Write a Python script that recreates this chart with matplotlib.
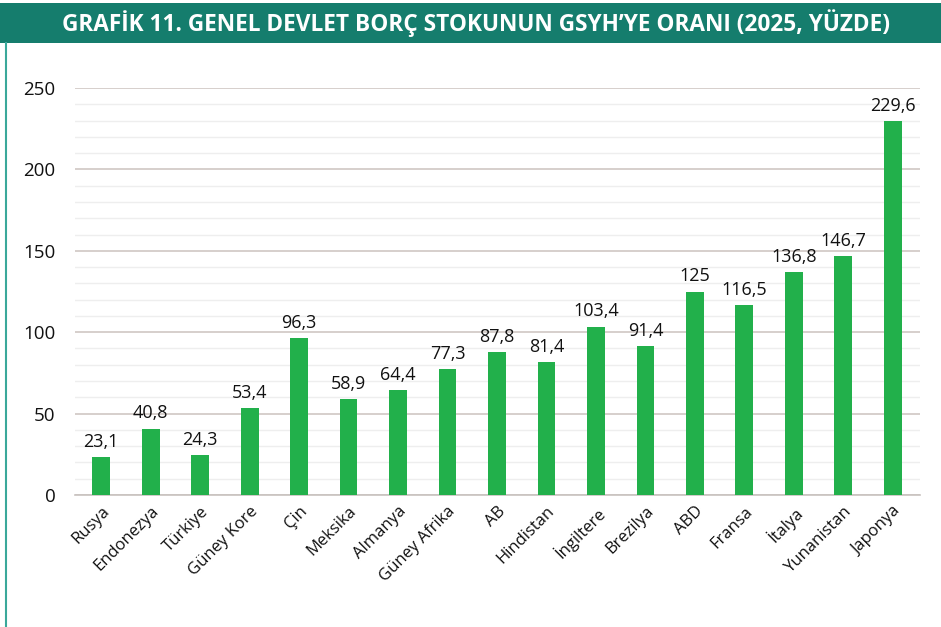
import matplotlib
matplotlib.use("Agg")
import matplotlib.pyplot as plt
from matplotlib.patches import Rectangle
from matplotlib.lines import Line2D
from matplotlib.ticker import MultipleLocator

countries = ["Rusya", "Endonezya", "Türkiye", "Güney Kore", "Çin", "Meksika", "Almanya",
             "Güney Afrika", "AB", "Hindistan", "İngiltere", "Brezilya", "ABD", "Fransa",
             "İtalya", "Yunanistan", "Japonya"]
values = [23.1, 40.8, 24.3, 53.4, 96.3, 58.9, 64.4, 77.3, 87.8, 81.4, 103.4, 91.4, 125,
          116.5, 136.8, 146.7, 229.6]
yticks = [0, 50, 100, 150, 200, 250]
title = "GRAFİK 11. GENEL DEVLET BORÇ STOKUNUN GSYH’YE ORANI (2025, YÜZDE)"

plt.rcParams['font.family'] = ['Open Sans', 'DejaVu Sans']

W, H = 941, 627
fig = plt.figure(figsize=(W / 100, H / 100), dpi=100)

# title bar
teal = "#157d6d"
fig.patches.append(Rectangle((0, 1 - 43 / H), 1, 40 / H, transform=fig.transFigure,
                             facecolor=teal, edgecolor="none", zorder=0))
fig.text(476 / W, 1 - 23 / H, title, color="white", fontsize=16.3, fontweight="bold",
         ha="center", va="center")
# left border line
fig.lines.append(Line2D([6 / W, 6 / W], [0, 1 - 43 / H], transform=fig.transFigure,
                        color="#3aa89a", linewidth=1.5))

left, right = 75 / W, 920 / W
bottom, top = 1 - 495 / H, 1 - 88 / H
ax = fig.add_axes([left, bottom, right - left, top - bottom])

x = list(range(len(countries)))
ax.bar(x, values, width=0.36, color="#22b04b", zorder=3)
for xi, v in zip(x, values):
    lab = ("%g" % v).replace(".", ",")
    ax.text(xi, v + 4, lab, ha="center", va="bottom", fontsize=13, color="#111111", zorder=4)

ax.set_xlim(-0.53, len(countries) - 1 + 0.55)
ax.set_ylim(0, 250)
ax.set_yticks(yticks)
ax.yaxis.set_minor_locator(MultipleLocator(10))
ax.grid(axis="y", which="major", color="#cfc7c3", linewidth=1.2, zorder=0)
ax.grid(axis="y", which="minor", color="#eeeeee", linewidth=1.0, zorder=0)
for s in ["top", "right", "left"]:
    ax.spines[s].set_visible(False)
ax.spines["bottom"].set_color("#c8c2bf")
ax.spines["bottom"].set_linewidth(1.2)
ax.tick_params(axis="y", which="both", length=0, pad=14, labelsize=13.5, labelcolor="#111111")
ax.tick_params(axis="x", length=0, pad=6)
ax.set_xticks(x)
ax.set_xticklabels(countries, rotation=45, ha="right", rotation_mode="anchor",
                   fontsize=12, color="#111111")
ax.set_axisbelow(True)

fig.savefig("out.png", dpi=100)
